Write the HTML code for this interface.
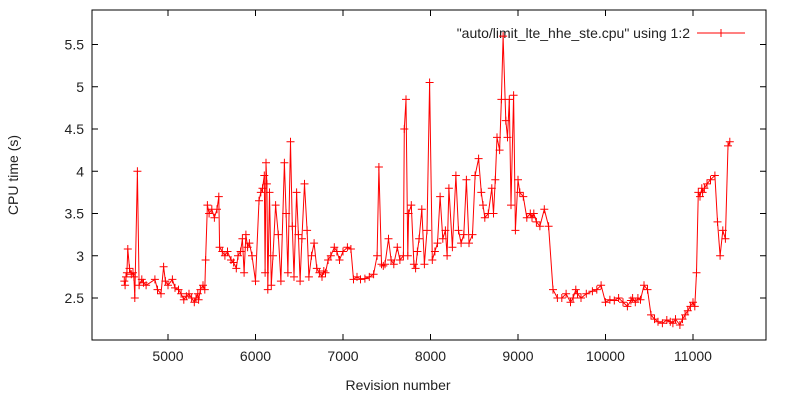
<!DOCTYPE html>
<html><head><meta charset="utf-8"><style>
html,body{margin:0;padding:0;background:#fff;}
svg text{font-family:"Liberation Sans","DejaVu Sans",sans-serif;font-size:14px;fill:#222;}
</style></head><body>
<svg id="chart" width="800" height="400" xmlns="http://www.w3.org/2000/svg">
<rect x="92" y="10" width="674" height="330" fill="none" stroke="#000" stroke-width="1"/>
<g id="ticks"></g>
<text x="398" y="390" text-anchor="middle">Revision number</text>
<text transform="translate(18,175) rotate(-90)" text-anchor="middle">CPU time (s)</text>
<g>
<text x="690" y="38" text-anchor="end">"auto/limit_lte_hhe_ste.cpu" using 1:2</text>
<line x1="697" y1="33" x2="745" y2="33" stroke="#f00" stroke-width="1"/>
<path d="M717,33h8M721,29v8" stroke="#f00" stroke-width="1"/>
</g>
<g id="series"></g>
</svg>
<script>
const xTicks=[5000,6000,7000,8000,9000,10000,11000];
const yTicks=[2.5,3,3.5,4,4.5,5,5.5];
const yTickLabels=["2.5","3","3.5","4","4.5","5","5.5"];
const revisions=[4500,4510,4520,4530,4540,4560,4580,4600,4610,4620,4650,4670,4700,4720,4750,4850,4880,4920,4950,4970,5000,5050,5080,5120,5150,5180,5210,5240,5270,5300,5320,5340,5350,5370,5400,5420,5430,5450,5470,5500,5530,5560,5580,5590,5620,5650,5680,5720,5750,5780,5800,5830,5850,5870,5890,5910,5930,5960,6000,6040,6060,6080,6100,6110,6120,6130,6140,6160,6180,6200,6230,6260,6290,6330,6350,6370,6400,6420,6440,6470,6490,6510,6530,6560,6590,6610,6640,6670,6700,6730,6760,6780,6800,6830,6860,6900,6930,6960,7000,7050,7090,7120,7160,7200,7250,7300,7350,7390,7410,7440,7460,7480,7520,7550,7580,7620,7650,7690,7700,7720,7740,7750,7780,7810,7830,7850,7870,7900,7930,7960,7990,8020,8050,8080,8110,8140,8170,8190,8210,8250,8290,8320,8350,8380,8410,8440,8480,8510,8550,8580,8600,8620,8660,8700,8720,8740,8760,8790,8810,8830,8860,8880,8900,8920,8950,8970,9000,9020,9060,9100,9140,9160,9180,9210,9250,9300,9350,9400,9450,9500,9550,9600,9630,9660,9680,9720,9780,9850,9900,9950,10000,10050,10100,10150,10200,10250,10290,10310,10340,10370,10400,10440,10480,10520,10560,10600,10650,10700,10740,10770,10800,10850,10880,10910,10940,10970,11000,11020,11040,11060,11080,11100,11110,11130,11160,11200,11250,11280,11310,11340,11370,11400,11420];
const cpuTimes=[2.7,2.65,2.75,2.8,3.08,2.85,2.78,2.8,2.75,2.5,4.0,2.65,2.72,2.68,2.65,2.72,2.6,2.55,2.87,2.7,2.65,2.72,2.62,2.6,2.55,2.48,2.52,2.55,2.5,2.45,2.5,2.55,2.48,2.6,2.65,2.6,2.95,3.6,3.5,3.55,3.45,3.55,3.7,3.1,3.05,3.0,3.05,2.95,2.92,2.85,3.0,3.05,3.2,2.8,3.25,3.1,3.15,3.0,2.7,3.65,3.75,3.8,3.95,2.8,4.1,3.85,2.6,3.75,2.65,3.0,3.6,3.25,2.7,4.1,3.5,2.8,4.35,3.35,2.75,3.75,3.25,2.7,3.2,3.85,3.3,2.75,3.0,3.15,2.85,2.8,2.75,2.82,2.8,2.95,3.0,3.1,3.05,2.95,3.05,3.1,3.08,2.72,2.75,2.72,2.73,2.75,2.78,3.0,4.05,2.9,2.88,2.9,3.2,2.95,2.9,3.1,2.95,3.0,4.5,4.85,3.0,3.5,3.6,2.9,2.85,3.05,3.2,3.55,2.9,3.3,5.05,2.95,3.05,3.15,3.7,3.2,3.3,3.0,3.8,3.1,3.95,3.3,3.15,3.25,3.9,3.15,3.25,3.95,4.15,3.75,3.6,3.45,3.5,3.8,3.5,3.9,4.4,4.25,4.85,5.6,4.6,4.4,4.85,3.6,4.9,3.3,3.9,3.75,3.7,3.45,3.5,3.45,3.5,3.4,3.35,3.55,3.35,2.6,2.5,2.5,2.55,2.45,2.5,2.6,2.55,2.5,2.55,2.58,2.6,2.65,2.45,2.48,2.47,2.5,2.45,2.4,2.47,2.5,2.45,2.5,2.48,2.65,2.6,2.3,2.25,2.22,2.2,2.24,2.22,2.2,2.25,2.18,2.25,2.3,2.35,2.4,2.45,2.4,2.8,3.75,3.7,3.8,3.75,3.8,3.85,3.9,3.95,3.4,3.0,3.3,3.2,4.3,4.35,4.45,4.5,4.4,4.35,4.45,4.5,4.4];
const NS="http://www.w3.org/2000/svg";
const xs=r=>168+(r-5000)*0.0875;
const ys=v=>298-(v-2.5)*84.5;
const tg=document.getElementById('ticks');
function mk(tag,attrs,parent){const e=document.createElementNS(NS,tag);for(const k in attrs)e.setAttribute(k,attrs[k]);parent.appendChild(e);return e;}
xTicks.forEach(t=>{
  const x=xs(t);
  const l=mk('path',{d:`M${x},340v-6M${x},10v6`,stroke:'#000'},tg);
  
  
  const tx=mk('text',{x:x,y:361,'text-anchor':'middle'},tg);
  tx.textContent=t;
  
  
});
yTicks.forEach((t,i)=>{
  const y=ys(t);
  const l=mk('path',{d:`M92,${y}h6M766,${y}h-6`,stroke:'#000'},tg);
  
  
  const tx=mk('text',{x:84,y:y+5,'text-anchor':'end'},tg);
  tx.textContent=yTickLabels[i];
  
  
});
const sg=document.getElementById('series');
let d='';
revisions.forEach((r,i)=>{d+=(i?'L':'M')+xs(r).toFixed(1)+','+ys(cpuTimes[i]).toFixed(1);});
const line=mk('path',{d:d,fill:'none',stroke:'#f00','stroke-width':1},sg);


let pd='';
revisions.forEach((r,i)=>{const x=xs(r),y=ys(cpuTimes[i]);pd+=`M${(x-4).toFixed(1)},${y.toFixed(1)}h8M${x.toFixed(1)},${(y-4).toFixed(1)}v8`;});
const pts=mk('path',{d:pd,fill:'none',stroke:'#f00','stroke-width':1},sg);


</script>
</body></html>
